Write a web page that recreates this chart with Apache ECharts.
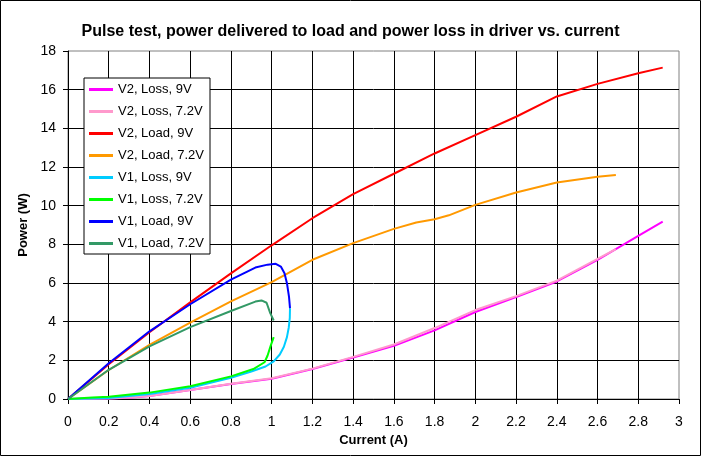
<!DOCTYPE html>
<html>
<head>
<meta charset="utf-8">
<title>Pulse test</title>
<script src="https://cdn.jsdelivr.net/npm/echarts@6/dist/echarts.min.js"></script>
<style>
  html, body { margin: 0; padding: 0; background: #fff; }
  #chart { width: 701px; height: 456px; }
</style>
</head>
<body>
<div id="chart"></div>
<script>
// [current (A), power (W)]
const v2Loss9 = [[0, 0], [0.2, 0.03], [0.3, 0.07], [0.4, 0.15], [0.6, 0.46], [0.8, 0.78], [1.0, 1.05], [1.2, 1.55], [1.4, 2.15], [1.6, 2.75], [1.8, 3.55], [2.0, 4.5], [2.2, 5.27], [2.4, 6.08], [2.6, 7.2], [2.8, 8.44], [2.92, 9.18]]
const v2Loss72 = [[0, 0], [0.2, 0.03], [0.3, 0.08], [0.4, 0.16], [0.6, 0.47], [0.8, 0.79], [1.0, 1.07], [1.2, 1.57], [1.4, 2.18], [1.6, 2.82], [1.8, 3.67], [2.0, 4.6], [2.2, 5.32], [2.4, 6.12], [2.6, 7.25], [2.69, 7.75]]
const v2Load9 = [[0, 0], [0.2, 1.8], [0.4, 3.45], [0.6, 5.0], [0.8, 6.5], [1.0, 7.95], [1.2, 9.35], [1.4, 10.6], [1.6, 11.65], [1.8, 12.7], [2.0, 13.65], [2.2, 14.6], [2.4, 15.65], [2.6, 16.3], [2.8, 16.85], [2.92, 17.14]]
const v2Load72 = [[0, 0], [0.2, 1.5], [0.4, 2.8], [0.6, 3.95], [0.8, 5.05], [1.0, 6.05], [1.2, 7.2], [1.4, 8.06], [1.6, 8.8], [1.71, 9.13], [1.8, 9.3], [1.87, 9.5], [2.0, 10.04], [2.2, 10.68], [2.4, 11.2], [2.6, 11.5], [2.69, 11.59]]
const v1Loss9 = [[0, 0], [0.2, 0.05], [0.4, 0.26], [0.6, 0.58], [0.8, 1.1], [0.9, 1.42], [0.97, 1.68], [1.01, 1.95], [1.04, 2.3], [1.06, 2.7], [1.075, 3.2], [1.084, 3.7], [1.089, 4.2], [1.09, 4.7]]
const v1Loss72 = [[0, 0], [0.12, 0.08], [0.2, 0.12], [0.4, 0.33], [0.6, 0.66], [0.8, 1.17], [0.91, 1.55], [0.965, 1.9], [0.98, 2.25], [0.995, 2.75], [1.01, 3.2]]
const v1Load9 = [[0, 0], [0.2, 1.85], [0.4, 3.5], [0.6, 4.9], [0.8, 6.17], [0.92, 6.8], [0.98, 6.95], [1.02, 6.99], [1.045, 6.85], [1.063, 6.51], [1.075, 5.99], [1.085, 5.3], [1.09, 4.7]]
const v1Load72 = [[0, 0], [0.2, 1.51], [0.4, 2.72], [0.6, 3.72], [0.8, 4.55], [0.92, 5.04], [0.95, 5.1], [0.975, 4.98], [0.993, 4.44], [1.01, 4.06]]

const seriesNames = ['V2, Loss, 9V', 'V2, Loss, 7.2V', 'V2, Load, 9V', 'V2, Load, 7.2V', 'V1, Loss, 9V', 'V1, Loss, 7.2V', 'V1, Load, 9V', 'V1, Load, 7.2V']
const seriesData = [v2Loss9, v2Loss72, v2Load9, v2Load72, v1Loss9, v1Loss72, v1Load9, v1Load72]
const colors = ['#ff00ff', '#ff99cc', '#ff0000', '#ff9900', '#00ccff', '#00ff00', '#0000ff', '#339966']

const font = 'Arial, "Liberation Sans", sans-serif'

const chart = echarts.init(document.getElementById('chart'))

chart.setOption({
  animation: false,
  backgroundColor: '#fff',
  color: colors,
  textStyle: { fontFamily: font },
  title: {
    text: 'Pulse test, power delivered to load and power loss in driver vs. current',
    left: 'center',
    top: 19,
    textStyle: { fontSize: 16, fontWeight: 'bold', color: '#000', fontFamily: font }
  },
  graphic: [{
    type: 'rect',
    shape: { x: 0.5, y: 0.5, width: 700, height: 455 },
    style: { fill: 'none', stroke: '#000', lineWidth: 1 },
    silent: true
  }],
  legend: {
    orient: 'vertical',
    left: 84,
    top: 78,
    padding: [5, 6, 4, 5],
    itemGap: 9,
    itemWidth: 24,
    itemHeight: 3,
    icon: 'rect',
    backgroundColor: '#fff',
    borderColor: '#000',
    borderWidth: 1,
    borderRadius: 0,
    textStyle: { fontSize: 13, color: '#000', fontFamily: font },
    data: seriesNames
  },
  grid: {
    left: 68,
    top: 51,
    width: 611,
    height: 348,
    show: true,
    borderColor: '#808080',
    borderWidth: 1
  },
  xAxis: {
    type: 'value',
    min: 0,
    max: 3,
    interval: 0.2,
    name: 'Current (A)',
    nameLocation: 'middle',
    nameGap: 31,
    nameTextStyle: { fontSize: 13, fontWeight: 'bold', color: '#000', fontFamily: font },
    axisLine: { show: true, lineStyle: { color: '#000', width: 1 } },
    axisTick: { show: true, length: 5, lineStyle: { color: '#000' } },
    axisLabel: { fontSize: 14, color: '#000', margin: 16, fontFamily: font },
    splitLine: { show: true, showMaxLine: false, lineStyle: { color: ['#000'], width: 1, type: 'solid' } }
  },
  yAxis: {
    type: 'value',
    min: 0,
    max: 18,
    interval: 2,
    name: 'Power (W)',
    nameLocation: 'middle',
    nameGap: 35,
    nameTextStyle: { fontSize: 13, fontWeight: 'bold', color: '#000', fontFamily: font },
    axisLine: { show: true, lineStyle: { color: '#000', width: 1 } },
    axisTick: { show: true, length: 5, lineStyle: { color: '#000' } },
    axisLabel: { fontSize: 14, color: '#000', margin: 12, fontFamily: font },
    splitLine: { show: true, showMaxLine: false, lineStyle: { color: ['#000'], width: 1, type: 'solid' } }
  },
  series: seriesNames.map((name, i) => ({
    name: name,
    type: 'line',
    data: seriesData[i],
    showSymbol: false,
    symbol: 'none',
    lineStyle: { width: 2, color: colors[i] },
    itemStyle: { color: colors[i] },
    z: 3 + i
  }))
})
</script>
</body>
</html>
